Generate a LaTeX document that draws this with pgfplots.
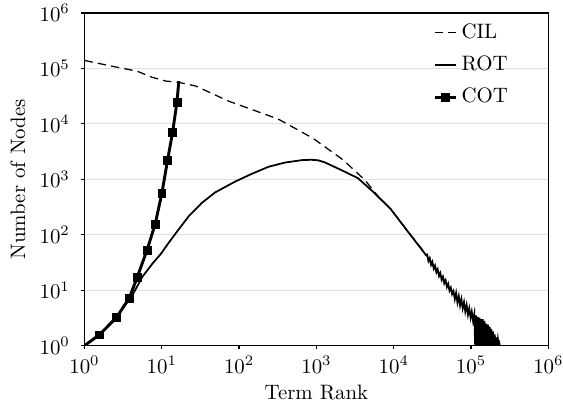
\documentclass[border=0pt]{standalone}
\usepackage{pgfplots}
\pgfplotsset{compat=1.18}
\begin{document}
\begin{tikzpicture}
\begin{axis}[
  name=ax,
  xmode=log, ymode=log,
  scale only axis, width=222.4pt, height=159.5pt,
  xmin=1, xmax=1e6, ymin=1, ymax=1e6,
  xtick={1,10,100,1000,10000,100000,1000000},
  ytick={1,10,100,1000,10000,100000,1000000},
  xtick pos=bottom, ytick pos=left,
  minor tick length=0pt,
  tick align=outside, major tick length=1.5pt,
  ymajorgrids, major grid style={black!12, line width=0.5pt},
  xlabel={Term Rank}, ylabel={Number of Nodes},
  xlabel style={yshift=1.3pt},
  axis line style={line width=0.7pt},
  every tick/.style={black, line width=0.6pt},
  yticklabel style={xshift=-2pt},
  legend style={at={(0.737,0.995)}, anchor=north west, draw=none, fill=none, row sep=3pt, font=\normalsize},
  legend cell align=left,
  legend image code/.code={\draw[mark repeat=2,mark phase=2,#1] plot coordinates {(0cm,0cm) (0.18cm,0cm) (0.36cm,0cm)};},
]
\addplot[black, line width=0.6pt, dash pattern=on 4pt off 2.5pt] coordinates {
(1,139000) (2.3,109000) (4.8,89000) (7.5,69000) (11.3,59000) (16.6,56000) (27.5,48000) (73,25700) (320,12200) (900,5500) (2200,2250) (4200,980) (6800,430) (9200,290) (15000,118) (24600,49) (40000,19) (66000,7.2) (108000,3.3) (145000,1.9) (200000,1.3) (230000,1) (480000,1)
};
\addlegendentry{CIL}
\addplot[black, line width=0.85pt] coordinates {
(1,1) (1.56,1.57) (2.58,3.2) (3.5,5.8) (4.18,8.2) (5.6,17.4) (7.55,30) (9.7,45) (12.4,73) (16.6,126) (22.4,217) (33,376) (49,580) (89,910) (145,1250) (240,1680) (390,2000) (640,2210) (850,2250) (1050,2200) (1280,2020) (2090,1470) (3430,1050) (5600,570) (9200,286) (15000,117) (24600,48)
(26000,43) (27000,44) (28100,33.5) (29200,37.8) (30400,28.6) (31600,32.5) (32900,24.5) (34200,27.7) (35600,21) (37000,23.8) (38500,18) (40000,20.4) (41600,15.4) (43300,17.5) (45000,13.3) (46800,15.1) (48700,11.4) (50600,13) (52600,9.8) (54700,11.1) (56900,8.5) (59200,9.6) (61600,6.9) (64000,8.9) (66600,6) (69300,7.8) (72000,5.3) (74900,6.9) (77900,4.7) (81000,6.1) (84200,4.1) (87600,5.4) (91100,3.6) (94700,4.7) (98500,3.2) (102000,4.1) (106000,2.8) (110000,3.7)
(113000,1) (116000,3.5) (119000,1) (122000,3.3) (125000,1) (128000,3.2) (131000,1) (134500,3) (138000,1) (141500,3) (145000,1) (149000,2.8) (153000,1) (157000,2.5) (161000,1) (165000,2.4) (169000,1) (173500,2.2) (178000,1) (182500,2) (187000,1) (192000,1.8) (197000,1) (202000,1.6) (207000,1) (212000,1.4) (217000,1) (222000,1.3) (227000,1) (232000,1.1) (235000,1)
};
\addlegendentry{ROT}
\addplot[black, line width=1.4pt, mark=square*, mark size=1.9pt, mark options={solid, line width=0.3pt}, mark indices={2,3,4,5,6,7,8,9,10,11}, legend image post style={mark indices={2}}] coordinates {
(1,1) (1.56,1.57) (2.58,3.2) (3.79,7.2) (4.8,17) (6.45,53) (8.2,155) (10,550) (11.9,2240) (13.8,7100) (15.7,24500) (16.6,59000)
};
\addlegendentry{COT}
\end{axis}
\pgfresetboundingbox
\useasboundingbox ([xshift=-40.5pt,yshift=-26.2pt]ax.south west) rectangle ([xshift=7pt,yshift=6.2pt]ax.north east);
\end{tikzpicture}
\end{document}
